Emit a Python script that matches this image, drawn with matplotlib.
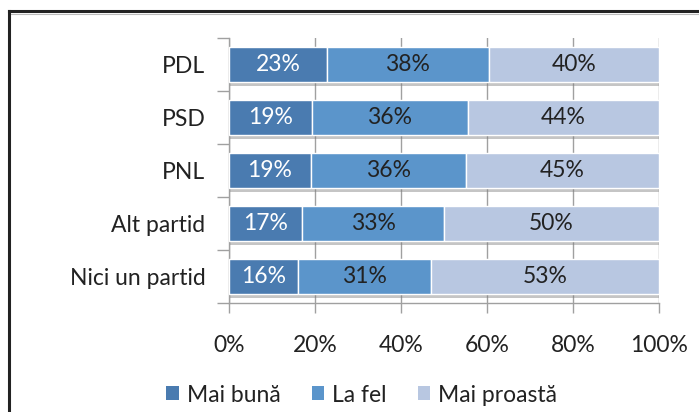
import matplotlib
matplotlib.use("Agg")
import matplotlib.pyplot as plt
import matplotlib.patheffects as pe
from matplotlib.lines import Line2D
from matplotlib.patches import Patch
import numpy as np

categories = ["PDL", "PSD", "PNL", "Alt partid", "Nici un partid"]
series_names = ["Mai bună", "La fel", "Mai proastă"]
mai_buna = [23, 19, 19, 17, 16]
la_fel = [38, 36, 36, 33, 31]
mai_proasta = [40, 44, 45, 50, 53]
xtick_labels = ["0%", "20%", "40%", "60%", "80%", "100%"]

colors = ["#4a7bb0", "#5b95cb", "#b8c7e1"]
text_colors = ["white", "#222222", "#222222"]
FS = 16.5

plt.rcParams['font.family'] = ['Lato', 'DejaVu Sans']

fig = plt.figure(figsize=(6.99, 4.12), dpi=100)
ax = fig.add_axes([229/699, 1-303/412, 430/699, 265/412])

data = np.array([mai_buna, la_fel, mai_proasta], dtype=float)
totals = data.sum(axis=0)
shares = data / totals * 100
y = np.arange(len(categories))
left = np.zeros(len(categories))
shadow = [pe.SimplePatchShadow(offset=(0.5, -3), shadow_rgbFace='#808080', alpha=0.45), pe.Normal()]
for i, name in enumerate(series_names):
    ax.barh(y, shares[i], left=left, height=0.66, color=colors[i],
            edgecolor='white', linewidth=1.0, zorder=3, path_effects=shadow)
    for j in range(len(categories)):
        ax.text(left[j] + shares[i][j] / 2, y[j], f"{int(data[i][j])}%",
                ha='center', va='center', color=text_colors[i], fontsize=FS, zorder=5)
    left += shares[i]

ax.set_xlim(0, 100)
ax.set_ylim(len(categories) - 0.5, -0.5)
ax.set_xticks(np.linspace(0, 100, len(xtick_labels)))
ax.set_xticklabels(xtick_labels, fontsize=FS, color='#222222')
ax.set_yticks(y)
ax.set_yticklabels(categories, fontsize=FS, color='#222222')
ax.set_yticks(np.arange(-0.5, len(categories), 1), minor=True)
ax.tick_params(axis='y', which='major', length=0, pad=17)
ax.tick_params(axis='y', which='minor', length=9, color='#a0a0a0', width=1)
ax.tick_params(axis='x', which='major', length=7, color='#a0a0a0', width=1, pad=16)
ax.grid(axis='x', color='#a0a0a0', linewidth=1, zorder=0)
ax.set_axisbelow(True)
for s in ['top', 'right']:
    ax.spines[s].set_visible(False)
for s in ['left', 'bottom']:
    ax.spines[s].set_color('#a0a0a0')
    ax.spines[s].set_linewidth(1)

handles = [Patch(facecolor=c, edgecolor='none') for c in colors]
leg = fig.legend(handles, series_names, loc='center', bbox_to_anchor=(362/699, 1-395/412),
                 ncol=3, frameon=False, fontsize=FS, handlelength=0.55, handleheight=0.55,
                 handletextpad=0.35, columnspacing=1.35)
for t in leg.get_texts():
    t.set_color('#222222')

# outer frame (top and left edges visible)
fig.add_artist(Line2D([9/699, 1.0], [1-11/412, 1-11/412], transform=fig.transFigure,
                      color='#222222', linewidth=2.2))
fig.add_artist(Line2D([10/699, 1.0], [1-14/412, 1-14/412], transform=fig.transFigure,
                      color='#bbbbbb', linewidth=0.8))
fig.add_artist(Line2D([9/699, 9/699], [1-11/412, 0], transform=fig.transFigure,
                      color='#222222', linewidth=2.2))

fig.savefig("out.png", dpi=100)
